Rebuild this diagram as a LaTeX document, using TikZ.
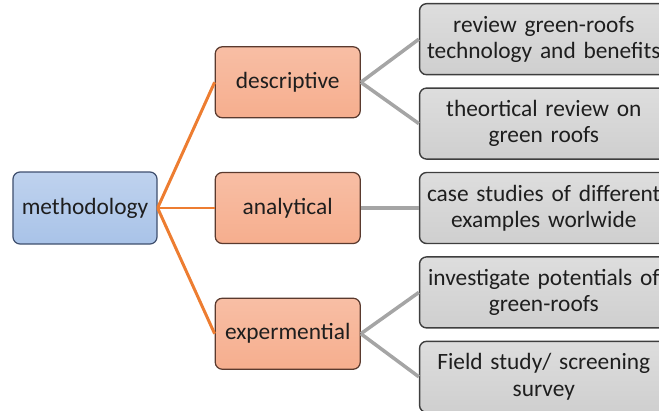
\documentclass[tikz,border=0pt]{standalone}
\usepackage{fontspec}
\setmainfont{Carlito}
\usepackage{xcolor}
\usepackage{tikz}
\usetikzlibrary{positioning}
\definecolor{skyfill}{HTML}{A9C3E8}
\definecolor{skyline}{HTML}{3F4F6E}
\definecolor{salmon}{HTML}{F6AE8E}
\definecolor{salmonline}{HTML}{5A3A2E}
\definecolor{ashfill}{HTML}{CFCFCF}
\definecolor{ashline}{HTML}{3E3E3E}
\definecolor{branch}{HTML}{ED7D31}
\definecolor{twig}{HTML}{A5A5A5}
\definecolor{ink}{HTML}{1E1E1E}
\tikzset{
  rootbox/.style={
    rectangle, rounded corners=4pt, draw=skyline, line width=0.7pt,
    top color=skyfill!75, bottom color=skyfill,
    minimum width=2.88cm, minimum height=1.44cm,
    font=\fontsize{13.3}{15}\selectfont, text=ink, align=center,
    inner sep=2pt
  },
  methodbox/.style={
    rectangle, rounded corners=4pt, draw=salmonline, line width=0.7pt,
    top color=salmon!80, bottom color=salmon,
    minimum width=2.9cm, minimum height=1.42cm,
    font=\fontsize{13.3}{15}\selectfont, text=ink, align=center,
    inner sep=2pt
  },
  taskbox/.style={
    rectangle, rounded corners=4pt, draw=ashline, line width=0.8pt,
    top color=ashfill!70, bottom color=ashfill,
    minimum width=4.96cm, minimum height=1.42cm, text width=4.9cm,
    font=\fontsize{13.3}{15}\selectfont, text=ink, align=center,
    inner sep=1pt
  },
  mainlink/.style={line width=1.7pt, color=branch},
  sublink/.style={line width=2pt, color=twig},
}
\begin{document}
\begin{tikzpicture}[node distance=1.07cm and 1.14cm]
\useasboundingbox (0,0) rectangle (13.18,-8.22);
\clip (0,0) rectangle (13.18,-8.22);
\node[rootbox] (meth) at (1.70,-4.16) {methodology};
\node[methodbox, right=1.14cm of meth] (anal) {analytical};
\node[methodbox, above=of anal] (desc) {descriptive};
\node[methodbox, below=of anal] (expt) {expermential};
\node[taskbox, right=1.16cm of anal] (cases) {case studies of different\\examples worlwide};
\node[taskbox, above=0.24cm of cases] (theory) {theortical review on\\green roofs};
\node[taskbox, above=0.24cm of theory] (techrev) {review green-roofs\\technology and benefits};
\node[taskbox, below=0.24cm of cases] (potent) {investigate potentials of\\green-roofs};
\node[taskbox, below=0.24cm of potent] (field) {Field study/ screening\\survey};
\draw[mainlink] (meth.east) -- (desc.west);
\draw[mainlink] (meth.east) -- (anal.west);
\draw[mainlink] (meth.east) -- (expt.west);
\draw[sublink] (desc.east) -- (techrev.west);
\draw[sublink] (desc.east) -- (theory.west);
\draw[sublink] (anal.east) -- (cases.west);
\draw[sublink] (expt.east) -- (potent.west);
\draw[sublink] (expt.east) -- (field.west);
\end{tikzpicture}
\end{document}
